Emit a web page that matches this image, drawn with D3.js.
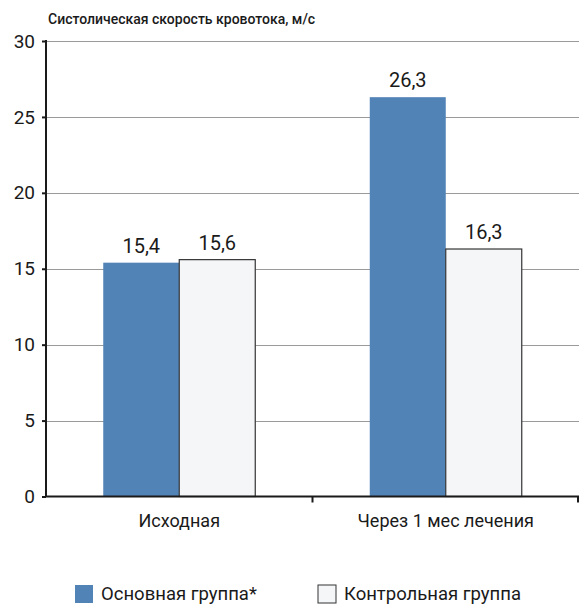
<!DOCTYPE html>
<html>
<head>
<meta charset="utf-8">
<script src="https://cdn.jsdelivr.net/npm/d3@7"></script>
<style>
  body { margin: 0; background: #fff; }
  text { font-family: "Roboto", "Liberation Sans", sans-serif; fill: #1a1a1a; }
</style>
</head>
<body>
<div id="container"></div>
<script>
var width = 580,
    height = 606;

var categories = ["Исходная", "Через 1 мес лечения"];
var seriesNames = ["Основная группа*", "Контрольная группа"];
var mainGroup = [15.4, 26.3];
var controlGroup = [15.6, 16.3];
var yTicks = [0, 5, 10, 15, 20, 25, 30];
var colors = ["#5283b6", "#f4f6f8"];

var margin = {top: 41, right: 1, bottom: 110, left: 46};

var svg = d3.select("#container")
    .append("svg")
    .attr("width", width)
    .attr("height", height);

var x = d3.scaleBand()
    .domain(categories)
    .range([margin.left, width - margin.right]);

var y = d3.scaleLinear()
    .domain([0, 30])
    .range([height - margin.bottom + 0.5, margin.top]);

// gridlines
svg.append("g")
    .selectAll("line")
    .data(yTicks.slice(1))
    .enter().append("line")
    .attr("x1", margin.left)
    .attr("x2", width - margin.right)
    .attr("y1", function (d) { return Math.round(y(d)) + 0.5; })
    .attr("y2", function (d) { return Math.round(y(d)) + 0.5; })
    .attr("stroke", "#9a9a9a")
    .attr("stroke-width", 1);

// bars
var barW = 76;
var rows = categories.map(function (c, i) {
    return [
        {cat: c, s: 0, v: mainGroup[i]},
        {cat: c, s: 1, v: controlGroup[i]}
    ];
});

var groups = svg.append("g")
    .selectAll("g")
    .data(rows)
    .enter().append("g");

groups.selectAll("rect")
    .data(function (d) { return d; })
    .enter().append("rect")
    .attr("x", function (d) {
        return x(d.cat) + x.bandwidth() / 2 - barW + d.s * barW;
    })
    .attr("y", function (d) { return y(d.v); })
    .attr("width", barW)
    .attr("height", function (d) { return y(0) - y(d.v); })
    .attr("fill", function (d) { return colors[d.s]; })
    .attr("stroke", function (d) { return d.s == 1 ? "#333" : "none"; })
    .attr("stroke-width", 1.2);

groups.selectAll("text")
    .data(function (d) { return d; })
    .enter().append("text")
    .attr("x", function (d) {
        return x(d.cat) + x.bandwidth() / 2 - barW / 2 + d.s * barW;
    })
    .attr("y", function (d) { return y(d.v) - 10; })
    .attr("text-anchor", "middle")
    .attr("font-size", "20px")
    .text(function (d) { return String(d.v).replace(".", ","); });

// y axis
var yAxis = svg.append("g")
    .attr("transform", "translate(" + margin.left + ",0)")
    .call(d3.axisLeft(y).tickValues(yTicks).tickSize(4).tickPadding(7));
yAxis.select(".domain").attr("stroke", "#1a1a1a").attr("stroke-width", 2)
    .attr("d", "M0," + y(0) + "V" + (y(30) - 1));
yAxis.selectAll(".tick line").attr("stroke", "#1a1a1a").attr("stroke-width", 2);
yAxis.selectAll(".tick text").attr("font-size", "19px")
    .style("font-family", "Roboto, sans-serif").attr("fill", "#1a1a1a");

// x axis
var xAxis = svg.append("g")
    .attr("transform", "translate(0," + y(0) + ")")
    .call(d3.axisBottom(x).tickSize(0).tickPadding(18));
xAxis.select(".domain").attr("stroke", "#1a1a1a").attr("stroke-width", 2)
    .attr("d", "M" + margin.left + ",0H" + (width - margin.right));
xAxis.selectAll(".tick text").attr("font-size", "18px")
    .style("font-family", "Roboto, sans-serif").attr("fill", "#1a1a1a");

// band boundary ticks
svg.append("g")
    .selectAll("line")
    .data(categories.slice(1).concat(["end"]))
    .enter().append("line")
    .attr("x1", function (d) { return d == "end" ? width - margin.right - 1 : x(d); })
    .attr("x2", function (d) { return d == "end" ? width - margin.right - 1 : x(d); })
    .attr("y1", y(0))
    .attr("y2", y(0) + 6)
    .attr("stroke", "#1a1a1a")
    .attr("stroke-width", 2);

// title
svg.append("text")
    .attr("x", 48)
    .attr("y", 24)
    .attr("font-size", "14px")
    .attr("font-weight", 500)
    .text("Систолическая скорость кровотока, м/с");

// legend
var legend = svg.append("g")
    .selectAll("g")
    .data(seriesNames)
    .enter().append("g")
    .attr("transform", function (d, i) {
        return "translate(" + [75, 318][i] + ",585)";
    });

legend.append("rect")
    .attr("width", 18)
    .attr("height", 18)
    .attr("fill", function (d, i) { return colors[i]; })
    .attr("stroke", function (d, i) { return i == 1 ? "#333" : "none"; });

legend.append("text")
    .attr("x", 26)
    .attr("y", 15)
    .attr("font-size", "18.5px")
    .text(function (d) { return d; });
</script>
</body>
</html>
